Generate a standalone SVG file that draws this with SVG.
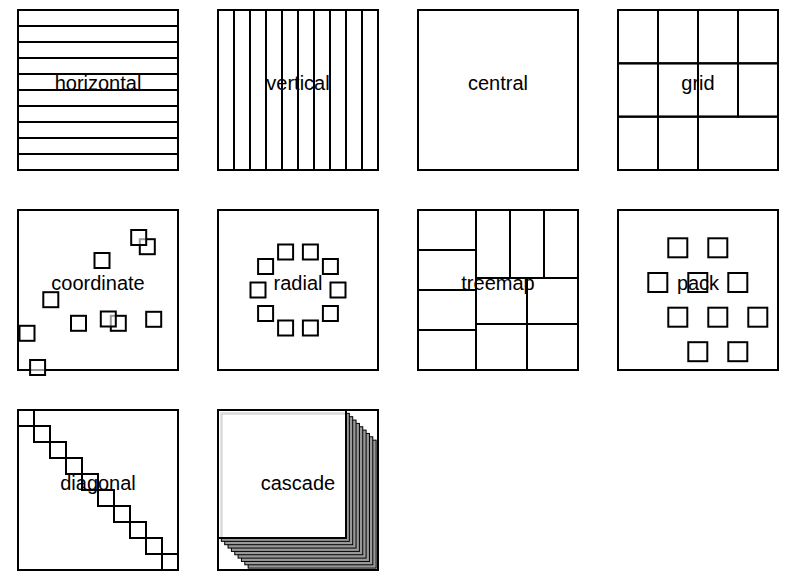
<svg xmlns="http://www.w3.org/2000/svg" width="798" height="582" viewBox="0 0 798 582">
<style>
rect{fill:none;stroke:#000;stroke-width:2}
.sq{fill:#fff;fill-opacity:0.6}
.card{fill:#999;stroke-width:1}
.top{fill:#fff;stroke-width:2}
text{font-family:"Liberation Sans",Arial,Helvetica,sans-serif;font-size:20px;fill:#000;text-anchor:middle}
</style>
<rect x="0" y="0" width="798" height="582" style="fill:#fff;stroke:none"/>
<g id="horizontal">
<rect x="18" y="10" width="160" height="160"/>
<rect x="18" y="10" width="160" height="16"/><rect x="18" y="26" width="160" height="16"/><rect x="18" y="42" width="160" height="16"/><rect x="18" y="58" width="160" height="16"/><rect x="18" y="74" width="160" height="16"/><rect x="18" y="90" width="160" height="16"/><rect x="18" y="106" width="160" height="16"/><rect x="18" y="122" width="160" height="16"/><rect x="18" y="138" width="160" height="16"/><rect x="18" y="154" width="160" height="16"/>
<text x="98" y="90">horizontal</text>
</g>
<g id="vertical">
<rect x="218" y="10" width="160" height="160"/>
<rect x="218" y="10" width="16" height="160"/><rect x="234" y="10" width="16" height="160"/><rect x="250" y="10" width="16" height="160"/><rect x="266" y="10" width="16" height="160"/><rect x="282" y="10" width="16" height="160"/><rect x="298" y="10" width="16" height="160"/><rect x="314" y="10" width="16" height="160"/><rect x="330" y="10" width="16" height="160"/><rect x="346" y="10" width="16" height="160"/><rect x="362" y="10" width="16" height="160"/>
<text x="298" y="90">vertical</text>
</g>
<g id="central">
<rect x="418" y="10" width="160" height="160"/>
<text x="498" y="90">central</text>
</g>
<g id="grid">
<rect x="618" y="10" width="160" height="160"/>
<rect x="618" y="10" width="40" height="53.33"/><rect x="658" y="10" width="40" height="53.33"/><rect x="698" y="10" width="40" height="53.33"/><rect x="738" y="10" width="40" height="53.33"/>
<rect x="618" y="63.33" width="40" height="53.33"/><rect x="658" y="63.33" width="40" height="53.33"/><rect x="698" y="63.33" width="40" height="53.33"/><rect x="738" y="63.33" width="40" height="53.33"/>
<rect x="618" y="116.67" width="40" height="53.33"/><rect x="658" y="116.67" width="40" height="53.33"/><rect x="698" y="116.67" width="80" height="53.33"/>
<text x="698" y="90">grid</text>
</g>
<g id="coordinate">
<rect x="18" y="210" width="160" height="160"/>
<rect class="sq" x="139.8" y="239.2" width="15" height="15"/>
<rect class="sq" x="131.2" y="230" width="15" height="15"/>
<rect class="sq" x="94.5" y="253" width="15" height="15"/>
<rect class="sq" x="43.3" y="292.2" width="15" height="15"/>
<rect class="sq" x="71" y="315.8" width="15" height="15"/>
<rect class="sq" x="110.8" y="315.8" width="15" height="15"/>
<rect class="sq" x="100.8" y="311.5" width="15" height="15"/>
<rect class="sq" x="146.2" y="311.8" width="15" height="15"/>
<rect class="sq" x="19.5" y="325.8" width="15" height="15"/>
<rect class="sq" x="30.1" y="360" width="15" height="15"/>
<text x="98" y="290">coordinate</text>
</g>
<g id="radial">
<rect x="218" y="210" width="160" height="160"/>
<rect x="330.5" y="282.5" width="15" height="15"/>
<rect x="322.9" y="306" width="15" height="15"/>
<rect x="302.9" y="320.5" width="15" height="15"/>
<rect x="278.1" y="320.5" width="15" height="15"/>
<rect x="258.1" y="306" width="15" height="15"/>
<rect x="250.5" y="282.5" width="15" height="15"/>
<rect x="258.1" y="259" width="15" height="15"/>
<rect x="278.1" y="244.5" width="15" height="15"/>
<rect x="302.9" y="244.5" width="15" height="15"/>
<rect x="322.9" y="259" width="15" height="15"/>
<text x="298" y="290">radial</text>
</g>
<g id="treemap">
<rect x="418" y="210" width="160" height="160"/>
<rect x="418" y="210" width="58" height="40"/><rect x="418" y="250" width="58" height="40"/><rect x="418" y="290" width="58" height="40"/><rect x="418" y="330" width="58" height="40"/>
<rect x="476" y="210" width="34" height="68"/><rect x="510" y="210" width="34" height="68"/><rect x="544" y="210" width="34" height="68"/>
<rect x="476" y="278" width="51" height="46"/><rect x="527" y="278" width="51" height="46"/><rect x="476" y="324" width="51" height="46"/><rect x="527" y="324" width="51" height="46"/>
<text x="498" y="290">treemap</text>
</g>
<g id="pack">
<rect x="618" y="210" width="160" height="160"/>
<rect x="668.3" y="238.3" width="19" height="19"/><rect x="708.3" y="238.3" width="19" height="19"/>
<rect x="648.3" y="273" width="19" height="19"/><rect x="688.3" y="273" width="19" height="19"/><rect x="728.3" y="273" width="19" height="19"/>
<rect x="668.3" y="307.7" width="19" height="19"/><rect x="708.3" y="307.7" width="19" height="19"/><rect x="748.3" y="307.7" width="19" height="19"/>
<rect x="688.3" y="342.2" width="19" height="19"/><rect x="728.3" y="342.2" width="19" height="19"/>
<text x="698" y="290">pack</text>
</g>
<g id="diagonal">
<rect x="18" y="410" width="160" height="160"/>
<rect x="18" y="410" width="16" height="16"/><rect x="34" y="426" width="16" height="16"/><rect x="50" y="442" width="16" height="16"/><rect x="66" y="458" width="16" height="16"/><rect x="82" y="474" width="16" height="16"/><rect x="98" y="490" width="16" height="16"/><rect x="114" y="506" width="16" height="16"/><rect x="130" y="522" width="16" height="16"/><rect x="146" y="538" width="16" height="16"/><rect x="162" y="554" width="16" height="16"/>
<text x="98" y="490">diagonal</text>
</g>
<g id="cascade">
<rect x="218" y="410" width="160" height="160"/>
<rect class="card" x="248.15" y="440.15" width="128" height="128"/>
<rect class="card" x="244.8" y="436.8" width="128" height="128"/>
<rect class="card" x="241.45" y="433.45" width="128" height="128"/>
<rect class="card" x="238.1" y="430.1" width="128" height="128"/>
<rect class="card" x="234.75" y="426.75" width="128" height="128"/>
<rect class="card" x="231.4" y="423.4" width="128" height="128"/>
<rect class="card" x="228.05" y="420.05" width="128" height="128"/>
<rect class="card" x="224.7" y="416.7" width="128" height="128"/>
<rect class="card" x="221.35" y="413.35" width="128" height="128"/>
<rect class="top" x="218" y="410" width="128" height="128"/>
<path d="M221.5 537 V413.5 H345" fill="none" stroke="#d9d9d9" stroke-width="2.5"/>
<text x="298" y="490">cascade</text>
</g>
</svg>
